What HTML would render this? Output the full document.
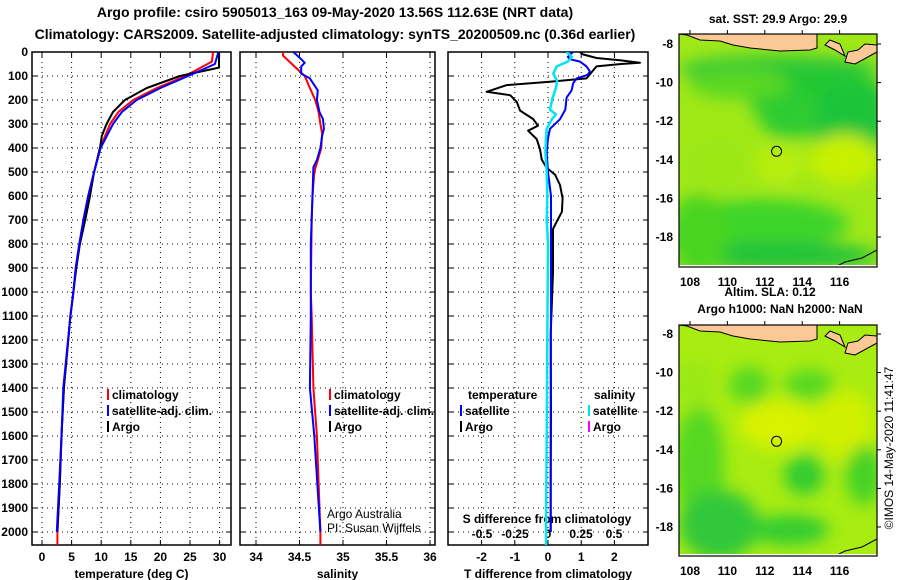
<!DOCTYPE html>
<html><head><meta charset="utf-8">
<style>
html,body{margin:0;padding:0;background:#fff;}
svg{display:block;font-family:"Liberation Sans",sans-serif;}
.t{font-weight:bold;font-size:12px;fill:#000;}
.ti{font-weight:bold;font-size:14px;fill:#000;}
.th{font-size:12px;fill:#000;}
</style></head>
<body>
<svg id="chart" width="900" height="580" viewBox="0 0 900 580" xmlns="http://www.w3.org/2000/svg">
<text class="ti" x="335" y="17" text-anchor="middle">Argo profile: csiro 5905013_163 09-May-2020 13.56S 112.63E (NRT data)</text>
<text class="ti" x="335" y="39" text-anchor="middle">Climatology: CARS2009. Satellite-adjusted climatology: synTS_20200509.nc (0.36d earlier)</text>
<g id="panels"></g>
<g id="maps"></g>
<text class="th" x="0" y="0" transform="translate(893,448) rotate(-90)" text-anchor="middle">©IMOS 14-May-2020 11:41:47</text>
</svg>
<script>
// ---- data ----
const tempClimDepth = [0,40,100,150,200,250,300,400,500,600,700,800,900,1000,1100,1400,1600,1800,2000,2054];
const tempClim      = [28.9,28.7,24.2,19.4,15.4,12.9,11.5,9.8,8.8,7.8,7.0,6.3,5.7,5.3,4.8,3.7,3.3,3.0,2.6,2.6];
const tempSatDepth  = [0,50,100,150,200,250,300,400,500,600,700,800,900,1000,1100,1400,1600,1800,2000];
const tempSat       = [29.8,29.2,24.7,20.0,16.0,13.5,12.0,9.9,8.8,7.8,7.0,6.3,5.7,5.3,4.8,3.6,3.3,2.9,2.5];
const tempArgoDepth = [0,65,100,150,200,250,300,350,400,500,600,700,800,900,1000,1100,1400,1600,1800,2000];
const tempArgo      = [29.9,29.9,23.3,17.7,14.0,12.0,10.9,10.1,9.8,8.8,8.1,7.3,6.4,5.8,5.3,4.8,3.7,3.3,3.0,2.6];

const salClimDepth = [0,15,100,150,200,250,300,340,400,450,500,600,700,1000,1100,1400,1600,2000,2054];
const salClim      = [34.31,34.31,34.56,34.62,34.68,34.72,34.74,34.76,34.75,34.71,34.67,34.65,34.64,34.63,34.64,34.66,34.70,34.74,34.74];
const salSatDepth  = [0,30,45,60,90,110,160,200,250,280,320,350,400,450,480,600,800,1100,1400,1600,2000];
const salSat       = [34.43,34.52,34.56,34.52,34.52,34.62,34.71,34.70,34.73,34.77,34.78,34.76,34.74,34.70,34.66,34.65,34.63,34.63,34.62,34.67,34.74];

const tdArgoDepth = [0,10,25,35,45,50,60,110,124,138,166,180,208,244,279,307,328,363,405,448,483,511,554,610,666,708,737,821,920,1032,1173,1500,1800,2000];
const tdArgo      = [0.96,1.05,1.46,2.2,2.77,2.2,1.46,1.16,0.06,-1.24,-1.85,-1.14,-0.94,-0.84,-0.45,-0.3,-0.6,-0.34,-0.24,-0.19,-0.04,0.21,0.36,0.44,0.42,0.26,0.15,0.15,0.15,0.12,0.08,0.09,0.08,0.08];
const tdSatDepth  = [0,20,30,40,60,80,95,110,130,160,190,240,280,320,360,420,500,600,1000,1500,2000];
const tdSat       = [0.75,0.6,0.66,0.96,1.16,1.26,1.2,0.86,0.76,0.71,0.56,0.52,0.36,0.06,0.0,-0.04,0.0,0.09,0.09,0.08,0.08];
const sdSatDepth  = [0,20,40,60,90,120,150,200,240,260,280,320,360,420,500,600,700,800,1200,1600,2000,2054];
const sdSat       = [0.14,0.18,0.15,0.066,0.04,0.07,0.06,0.03,0.015,0.06,0.03,-0.01,-0.015,-0.02,-0.01,-0.005,-0.01,0.0,-0.005,-0.01,-0.015,-0.015];

const depthTicks = [0,100,200,300,400,500,600,700,800,900,1000,1100,1200,1300,1400,1500,1600,1700,1800,1900,2000];
const tempTicks = [0,5,10,15,20,25,30];
const salTicks = [34,34.5,35,35.5,36];
const tdTicks = [-2,-1,0,1,2];
const sdTicks = [-0.5,-0.25,0,0.25,0.5];
const sdTickLabels = ["-0.5","-0.25","0","0.25","0.5"];
const lonTicks = [108,110,112,114,116];
const latTicks = [-8,-10,-12,-14,-16,-18];

// ---- scales ----
const TOP=52, BOT=545;
const yD = d => 52 + d*0.24;
const xT = t => 42 + t*5.92;
const xS = s => 256 + (s-34)*87;
const xTD = t => 548 + t*33.2;
const xSD = s => 548 + s*132;

const NS="http://www.w3.org/2000/svg";
function mk(tag, attrs, parent){
  const e=document.createElementNS(NS,tag);
  for(const k in attrs) e.setAttribute(k,attrs[k]);
  (parent||document.getElementById('chart')).appendChild(e);
  return e;
}
function txt(s, attrs, parent){const e=mk('text',attrs,parent);e.textContent=s;return e;}

const panelsG=document.getElementById('panels');
const panels=[
  {name:'temperature-panel',x0:32,x1:231,xs:xT,ticks:tempTicks,labels:tempTicks.map(String),title:'temperature (deg C)'},
  {name:'salinity-panel',x0:240,x1:435,xs:xS,ticks:salTicks,labels:salTicks.map(String),title:'salinity'},
  {name:'difference-panel',x0:448,x1:648,xs:xTD,ticks:tdTicks,labels:tdTicks.map(String),title:'T difference from climatology'}
];
panels.forEach((p,pi)=>{
  const g=mk('g',{},panelsG);
  
  
  depthTicks.forEach(d=>{
    const l=mk('line',{x1:p.x0,x2:p.x1,y1:yD(d),y2:yD(d),stroke:'#000','stroke-width':1,'stroke-dasharray':'1 4'},g);
    
    
    mk('line',{x1:p.x0,x2:p.x0+5,y1:yD(d),y2:yD(d),stroke:'#000'},g);
    mk('line',{x1:p.x1-5,x2:p.x1,y1:yD(d),y2:yD(d),stroke:'#000'},g);
  });
  p.ticks.forEach((t,i)=>{
    const x=p.xs(t);
    const l=mk('line',{x1:x,x2:x,y1:TOP,y2:BOT,stroke:'#000','stroke-width':1,'stroke-dasharray':'1 4'},g);
    
    
    mk('line',{x1:x,x2:x,y1:BOT-5,y2:BOT,stroke:'#000'},g);
    mk('line',{x1:x,x2:x,y1:TOP,y2:TOP+5,stroke:'#000'},g);
    const lb=txt(p.labels[i],{class:'t',x:x,y:561,'text-anchor':'middle'},g);
    
    
  });
  const at=txt(p.title,{class:'t',x:(p.x0+p.x1)/2,y:578,'text-anchor':'middle'},g);
  
  
  const fr=mk('rect',{x:p.x0,y:TOP,width:p.x1-p.x0,height:BOT-TOP,fill:'none',stroke:'#000','stroke-width':1.5},g);
  
  
});
depthTicks.forEach(d=>{
  const lb=txt(String(d),{class:'t',x:28,y:yD(d)+4,'text-anchor':'end'},panelsG);
  
  
});
sdTicks.forEach((s,i)=>{
  const lb=txt(sdTickLabels[i],{class:'t',x:xSD(s),y:538,'text-anchor':'middle'},panelsG);
  
  
});
const sdt=txt('S difference from climatology',{class:'t',x:547,y:523,'text-anchor':'middle'},panelsG);



function series(depths, vals, xs, color, name, w, clip){
  const pts=depths.map((d,i)=>xs(vals[i]).toFixed(1)+','+yD(d).toFixed(1)).join(' ');
  const pl=mk('polyline',{points:pts,fill:'none',stroke:color,'stroke-width':w||2,'stroke-linejoin':'round','clip-path':'url(#'+clip+')'},panelsG);
  
  
}
const defs=mk('defs',{});
[['c1',32,231],['c2',240,435],['c3',448,648]].forEach(c=>{
  const cp=mk('clipPath',{id:c[0]},defs);
  mk('rect',{x:c[1],y:TOP,width:c[2]-c[1],height:BOT-TOP},cp);
});
series(tempClimDepth,tempClim,xT,'#ff0000','temperature-climatology-line',2,'c1');
series(tempArgoDepth,tempArgo,xT,'#000000','temperature-argo-line',2,'c1');
series(tempSatDepth,tempSat,xT,'#0000ff','temperature-satellite-line',2,'c1');
series(salClimDepth,salClim,xS,'#ff0000','salinity-climatology-line',2,'c2');
series(salSatDepth,salSat,xS,'#0000ff','salinity-satellite-line',2,'c2');
series(tdArgoDepth,tdArgo,xTD,'#000000','t-diff-argo-line',2,'c3');
series(tdSatDepth,tdSat,xTD,'#0000ff','t-diff-satellite-line',2,'c3');
series(sdSatDepth,sdSat,xSD,'#00e5ee','s-diff-satellite-line',2.5,'c3');

function legend(x,y,color,label,name){
  const g=mk('g',{},panelsG);
  
  
  mk('line',{x1:x,x2:x,y1:y-10,y2:y+1,stroke:color,'stroke-width':2},g);
  txt(label,{class:'t',x:x+4,y:y},g);
}
legend(108,399,'#ff0000','climatology','legend-climatology');
legend(108,415,'#0000ff','satellite-adj. clim.','legend-satellite-adj');
legend(108,431,'#000000','Argo','legend-argo');
legend(330,399,'#ff0000','climatology','legend-climatology-sal');
legend(330,415,'#0000ff','satellite-adj. clim.','legend-satellite-adj-sal');
legend(330,431,'#000000','Argo','legend-argo-sal');
const lt=txt('temperature',{class:'t',x:468,y:399},panelsG);


const ls=txt('salinity',{class:'t',x:594,y:399},panelsG);


legend(461,415,'#0000ff','satellite','legend-t-satellite');
legend(461,431,'#000000','Argo','legend-t-argo');
legend(589,415,'#00e5ee','satellite','legend-s-satellite');
legend(589,431,'#ff00ff','Argo','legend-s-argo');
const a1=txt('Argo Australia',{class:'th',x:327,y:518},panelsG);


const a2=txt('PI: Susan Wijffels',{class:'th',x:327,y:532},panelsG);



// ---- maps ----
const mapsG=document.getElementById('maps');
function drawMap(top, bottom, lat8y, name, blobs, base){
  const L=679,R=877;
  const g=mk('g',{},mapsG);
  
  
  const fid='blur'+top;
  const f=mk('filter',{id:fid,x:'-50%',y:'-50%',width:'200%',height:'200%'},defs);
  mk('feGaussianBlur',{stdDeviation:8},f);
  const cid='mc'+top;
  const cp=mk('clipPath',{id:cid},defs);
  mk('rect',{x:L,y:top,width:R-L,height:bottom-top},cp);
  const inner=mk('g',{'clip-path':'url(#'+cid+')'},g);
  mk('rect',{x:L,y:top,width:R-L,height:bottom-top,fill:base},inner);
  const bg=mk('g',{filter:'url(#'+fid+')'},inner);
  blobs.forEach(b=>mk('ellipse',{cx:L+b[0],cy:top+b[1],rx:b[2],ry:b[3],fill:b[4]},bg));
  const oy=top-34;
  const land='679,34 687,35 700,40 720,41 733,45 750,48 780,51 810,50 817,48 817,34';
  mk('polygon',{points:land.split(' ').map(p=>{const a=p.split(',');return a[0]+','+(+a[1]+oy);}).join(' '),fill:'#fcc896',stroke:'#000','stroke-width':1},inner);
  mk('polygon',{points:[[825,45],[835,50],[845,56],[840,44],[830,40]].map(a=>a[0]+','+(a[1]+oy)).join(' '),fill:'#fcc896',stroke:'#000','stroke-width':1},inner);
  mk('polygon',{points:[[845,62],[855,64],[866,58],[877,52],[877,45],[865,44],[858,50],[848,52]].map(a=>a[0]+','+(a[1]+oy)).join(' '),fill:'#fcc896',stroke:'#000','stroke-width':1},inner);
  mk('polyline',{points:[[833,268],[845,262],[862,258],[877,250]].map(a=>a[0]+','+(a[1]-267+bottom)).join(' '),fill:'none',stroke:'#000','stroke-width':1},inner);
  mk('rect',{x:L,y:bottom-2,width:R-L,height:2,fill:'#fff'},inner);
  const lonX=lon=>690+(lon-108)*18.7;
  const latY=lat=>lat8y+(-8-lat)*19.3;
  const c=mk('circle',{cx:lonX(112.63),cy:latY(-13.56),r:5,fill:'none',stroke:'#000','stroke-width':1},g);
  
  
  mk('rect',{x:L,y:top,width:R-L,height:bottom-top,fill:'none',stroke:'#000','stroke-width':1.2},g);
  lonTicks.forEach(lon=>{
    const x=lonX(lon);
    mk('line',{x1:x,x2:x,y1:top-4,y2:top,stroke:'#000'},g);
    const lb=txt(String(lon),{class:'t',x:x,y:bottom+19,'text-anchor':'middle'},g);
    
    
  });
  latTicks.forEach(lat=>{
    const y=latY(lat);
    mk('line',{x1:R,x2:R+4,y1:y,y2:y,stroke:'#000'},g);
    const lb=txt(String(lat),{class:'t',x:673,y:y+4,'text-anchor':'end'},g);
    
    
  });
}
drawMap(34,267,44,'sst-map',[
  [100,35,100,14,'#30c838'],[140,65,70,30,'#22c830'],[170,90,40,40,'#1fc43a'],
  [110,80,30,25,'#2ecc30'],[60,50,50,15,'#5ad820'],
  [40,130,40,30,'#9ce814'],[80,190,90,25,'#3ed42a'],[100,222,100,14,'#22c23a'],
  [20,200,30,40,'#4ad424'],[165,125,35,25,'#c8f000'],[100,130,25,20,'#b8ee10']
],'#a0e818');
drawMap(325,556,334,'sla-map',[
  [70,60,20,18,'#55d820'],[20,140,25,60,'#55d820'],[40,200,40,35,'#33c83a'],
  [100,100,40,25,'#d8f200'],[165,100,30,35,'#d0f000'],[185,150,18,30,'#44d228'],
  [125,150,20,20,'#33cc33'],[110,205,40,15,'#30cc30'],[15,60,20,25,'#9ae818'],[130,60,25,15,'#55d820']
],'#a8ec12');
const s1=txt('sat. SST: 29.9 Argo: 29.9',{class:'t',x:778,y:23,'text-anchor':'middle'});


const s2=txt('Altim. SLA: 0.12',{class:'t',x:770,y:296,'text-anchor':'middle'});


const s3=txt('Argo h1000: NaN h2000: NaN',{class:'t',x:780,y:313,'text-anchor':'middle'});


</script>
</body></html>
